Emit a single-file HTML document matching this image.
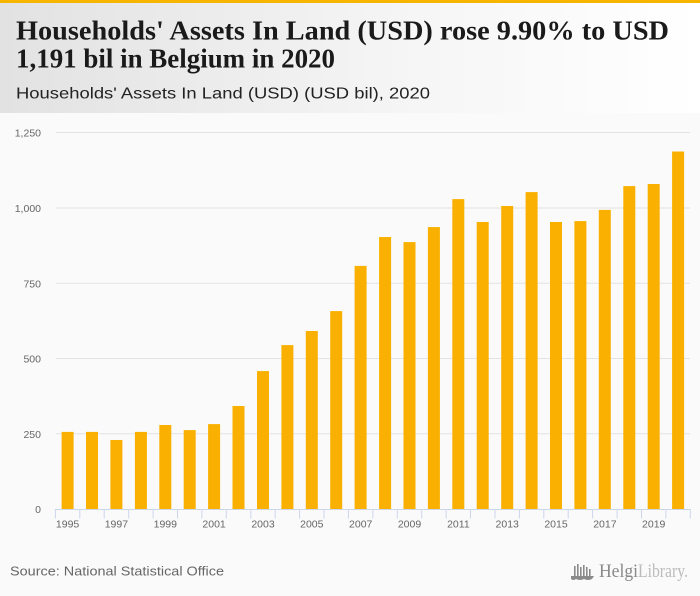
<!DOCTYPE html>
<html>
<head>
<meta charset="utf-8">
<style>
  html,body{margin:0;padding:0;}
  body{width:700px;height:596px;overflow:hidden;background:#fafafa;}
  svg{display:block;}
</style>
</head>
<body>
<svg width="700" height="596" viewBox="0 0 700 596" xmlns="http://www.w3.org/2000/svg">
  <defs>
    <linearGradient id="hg" x1="0" y1="0" x2="1" y2="0">
      <stop offset="0" stop-color="#e2e2e2"/>
      <stop offset="0.6" stop-color="#f6f6f6"/>
      <stop offset="1" stop-color="#ffffff"/>
    </linearGradient>
  </defs>
  <rect x="0" y="0" width="700" height="596" fill="#fafafa"/>
  <rect x="0" y="3" width="700" height="110" fill="url(#hg)"/>
  <rect x="0" y="0" width="700" height="3" fill="#f7b500"/>

  <text x="16" y="39.5" font-family="Liberation Serif, serif" font-weight="bold" font-size="27" fill="#1a1a1a" textLength="653" lengthAdjust="spacingAndGlyphs">Households' Assets In Land (USD) rose 9.90% to USD</text>
  <text x="16" y="67.5" font-family="Liberation Serif, serif" font-weight="bold" font-size="27" fill="#1a1a1a" textLength="319" lengthAdjust="spacingAndGlyphs">1,191 bil in Belgium in 2020</text>
  <text x="16" y="98.3" font-family="Liberation Sans, sans-serif" font-size="16" fill="#222" textLength="414" lengthAdjust="spacingAndGlyphs">Households' Assets In Land (USD) (USD bil), 2020</text>

  <!-- gridlines -->
  <g stroke="#e3e3e3" stroke-width="1">
    <line x1="56" y1="132.5" x2="690" y2="132.5"/>
    <line x1="56" y1="208.0" x2="690" y2="208.0"/>
    <line x1="56" y1="283.3" x2="690" y2="283.3"/>
    <line x1="56" y1="358.5" x2="690" y2="358.5"/>
    <line x1="56" y1="433.8" x2="690" y2="433.8"/>
  </g>

  <!-- y labels -->
  <g font-family="Liberation Sans, sans-serif" font-size="10.5" fill="#666" text-anchor="end">
    <text x="41" y="136.5">1,250</text>
    <text x="41" y="212">1,000</text>
    <text x="41" y="287.3">750</text>
    <text x="41" y="362.5">500</text>
    <text x="41" y="437.8">250</text>
    <text x="41" y="513">0</text>
  </g>

  <!-- bars -->
  <g fill="#f9b000">
    <rect x="61.6" y="431.9" width="12" height="77.1"/>
    <rect x="86.0" y="431.9" width="12" height="77.1"/>
    <rect x="110.4" y="440.0" width="12" height="69.0"/>
    <rect x="134.9" y="431.9" width="12" height="77.1"/>
    <rect x="159.3" y="425.0" width="12" height="84.0"/>
    <rect x="183.7" y="430.1" width="12" height="78.9"/>
    <rect x="208.1" y="424.1" width="12" height="84.9"/>
    <rect x="232.5" y="406.0" width="12" height="103.0"/>
    <rect x="257.0" y="371.1" width="12" height="137.9"/>
    <rect x="281.4" y="345.1" width="12" height="163.9"/>
    <rect x="305.8" y="331.0" width="12" height="178.0"/>
    <rect x="330.2" y="311.1" width="12" height="197.9"/>
    <rect x="354.6" y="265.9" width="12" height="243.1"/>
    <rect x="379.1" y="237.0" width="12" height="272.0"/>
    <rect x="403.5" y="242.1" width="12" height="266.9"/>
    <rect x="427.9" y="227.1" width="12" height="281.9"/>
    <rect x="452.3" y="199.1" width="12" height="309.9"/>
    <rect x="476.7" y="222.0" width="12" height="287.0"/>
    <rect x="501.2" y="206.0" width="12" height="303.0"/>
    <rect x="525.6" y="192.1" width="12" height="316.9"/>
    <rect x="550.0" y="222.0" width="12" height="287.0"/>
    <rect x="574.4" y="221.1" width="12" height="287.9"/>
    <rect x="598.8" y="209.9" width="12" height="299.1"/>
    <rect x="623.3" y="186.1" width="12" height="322.9"/>
    <rect x="647.7" y="184.0" width="12" height="325.0"/>
    <rect x="672.1" y="151.5" width="12" height="357.5"/>
  </g>

  <!-- x axis -->
  <g stroke="#ccd6eb" stroke-width="1">
    <line x1="55.4" y1="509.5" x2="690.4" y2="509.5"/>
    <line x1="55.4" y1="509" x2="55.4" y2="518.5"/>
    <line x1="79.8" y1="509" x2="79.8" y2="518.5"/>
    <line x1="104.2" y1="509" x2="104.2" y2="518.5"/>
    <line x1="128.7" y1="509" x2="128.7" y2="518.5"/>
    <line x1="153.1" y1="509" x2="153.1" y2="518.5"/>
    <line x1="177.5" y1="509" x2="177.5" y2="518.5"/>
    <line x1="201.9" y1="509" x2="201.9" y2="518.5"/>
    <line x1="226.3" y1="509" x2="226.3" y2="518.5"/>
    <line x1="250.8" y1="509" x2="250.8" y2="518.5"/>
    <line x1="275.2" y1="509" x2="275.2" y2="518.5"/>
    <line x1="299.6" y1="509" x2="299.6" y2="518.5"/>
    <line x1="324.0" y1="509" x2="324.0" y2="518.5"/>
    <line x1="348.4" y1="509" x2="348.4" y2="518.5"/>
    <line x1="372.9" y1="509" x2="372.9" y2="518.5"/>
    <line x1="397.3" y1="509" x2="397.3" y2="518.5"/>
    <line x1="421.7" y1="509" x2="421.7" y2="518.5"/>
    <line x1="446.1" y1="509" x2="446.1" y2="518.5"/>
    <line x1="470.5" y1="509" x2="470.5" y2="518.5"/>
    <line x1="495.0" y1="509" x2="495.0" y2="518.5"/>
    <line x1="519.4" y1="509" x2="519.4" y2="518.5"/>
    <line x1="543.8" y1="509" x2="543.8" y2="518.5"/>
    <line x1="568.2" y1="509" x2="568.2" y2="518.5"/>
    <line x1="592.6" y1="509" x2="592.6" y2="518.5"/>
    <line x1="617.1" y1="509" x2="617.1" y2="518.5"/>
    <line x1="641.5" y1="509" x2="641.5" y2="518.5"/>
    <line x1="665.9" y1="509" x2="665.9" y2="518.5"/>
    <line x1="690.3" y1="509" x2="690.3" y2="518.5"/>
  </g>

  <!-- x labels -->
  <g font-family="Liberation Sans, sans-serif" font-size="10.5" fill="#666" text-anchor="middle">
    <text x="67.6" y="527.5">1995</text>
    <text x="116.4" y="527.5">1997</text>
    <text x="165.3" y="527.5">1999</text>
    <text x="214.1" y="527.5">2001</text>
    <text x="263.0" y="527.5">2003</text>
    <text x="311.8" y="527.5">2005</text>
    <text x="360.7" y="527.5">2007</text>
    <text x="409.5" y="527.5">2009</text>
    <text x="458.4" y="527.5">2011</text>
    <text x="507.2" y="527.5">2013</text>
    <text x="556.0" y="527.5">2015</text>
    <text x="604.9" y="527.5">2017</text>
    <text x="653.7" y="527.5">2019</text>
  </g>

  <!-- source -->
  <text x="10" y="575.7" font-family="Liberation Sans, sans-serif" font-size="13" fill="#666" textLength="214" lengthAdjust="spacingAndGlyphs">Source: National Statistical Office</text>

  <!-- logo -->
  <g fill="#8a8a8a">
    <rect x="574" y="566" width="1.6" height="10"/>
    <rect x="577" y="564" width="1.6" height="12"/>
    <rect x="580" y="567" width="1.6" height="9"/>
    <rect x="583" y="565" width="1.6" height="11"/>
    <rect x="586" y="567" width="1.6" height="9"/>
    <rect x="589" y="569" width="1.6" height="7"/>
    <path d="M571 576 L594 576 L592 579 Q588 581 584 579 Q580 581 576 579 Q573 581 571 579 Z"/>
  </g>
  <text x="599" y="577" font-family="Liberation Serif, serif" font-size="19" fill="#888" textLength="39" lengthAdjust="spacingAndGlyphs">Helgi</text>
  <text x="638" y="577" font-family="Liberation Serif, serif" font-size="19" fill="#bbb" textLength="50" lengthAdjust="spacingAndGlyphs">Library.</text>
</svg>
</body>
</html>
